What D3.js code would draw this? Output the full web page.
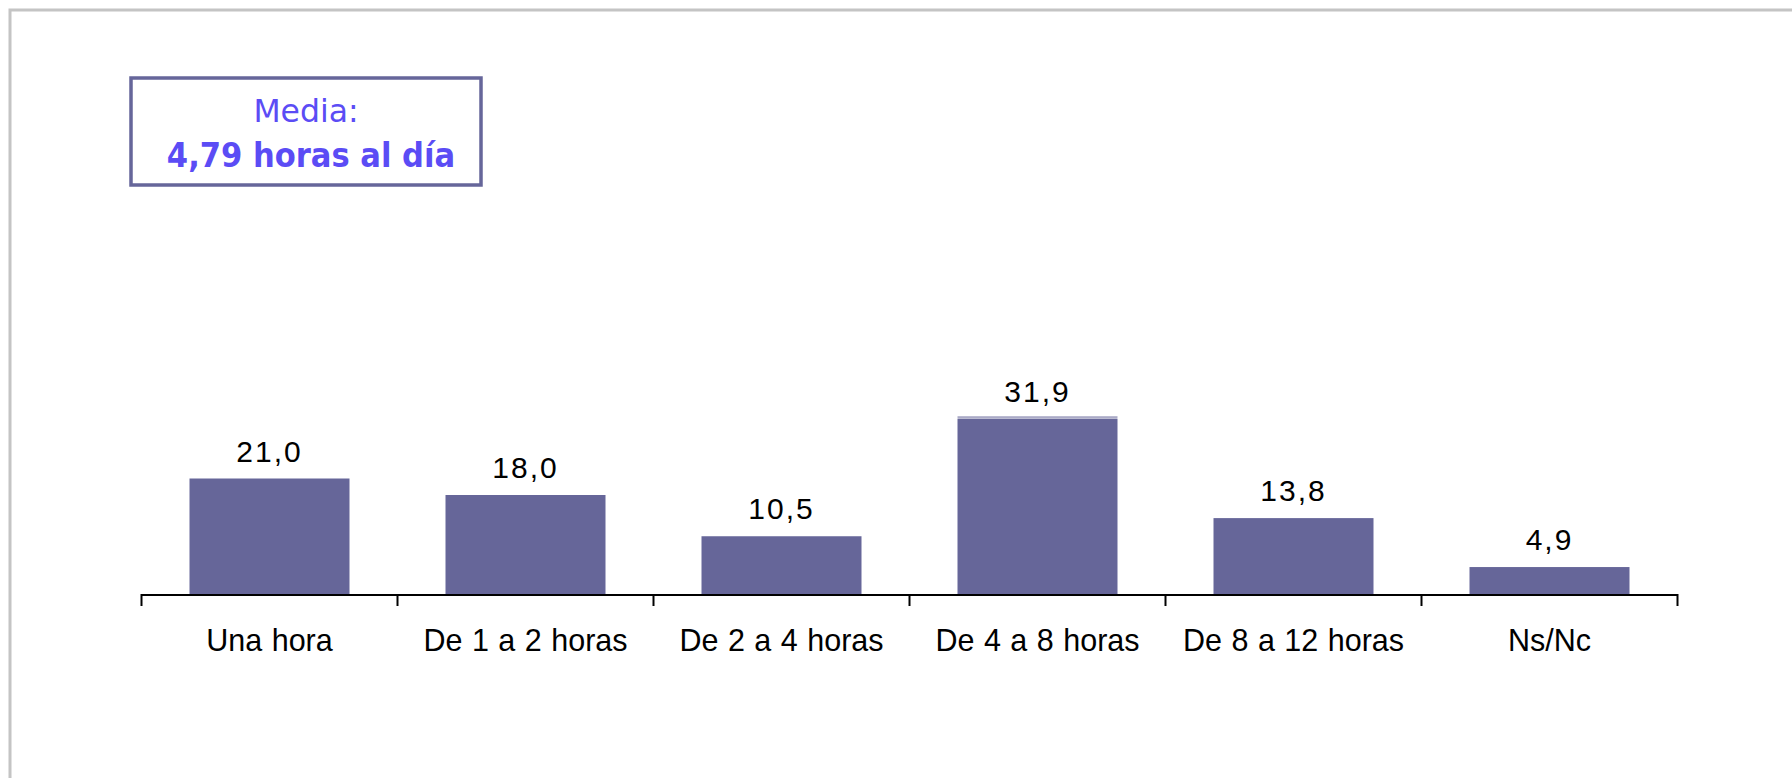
<!DOCTYPE html>
<html>
<head>
<meta charset="utf-8">
<script src="https://cdn.jsdelivr.net/npm/d3@7"></script>
<style>
  html, body { margin: 0; padding: 0; background: #fff; }
  svg { display: block; }
</style>
</head>
<body>
<div id="chart"></div>
<script>
// data
var categories = ["Una hora", "De 1 a 2 horas", "De 2 a 4 horas", "De 4 a 8 horas", "De 8 a 12 horas", "Ns/Nc"];
var values = [21.0, 18.0, 10.5, 31.9, 13.8, 4.9];
var mediaLines = ["Media:", "4,79 horas al día"];

var width = 1792, height = 778;

var svg = d3.select("#chart").append("svg")
    .attr("width", width)
    .attr("height", height);

//grey frame round the slide (only top and left show)
svg.append("path")
    .attr("d", "M10,778 L10,10 L1792,10")
    .attr("fill", "none")
    .attr("stroke", "#c4c4c4")
    .attr("stroke-width", 3);

//scales
var x = d3.scaleBand()
    .domain(categories)
    .range([141.5, 1677.5])
    .paddingInner(0.375)
    .paddingOuter(0.1875);

var y = d3.scaleLinear()
    .domain([0, 100])
    .range([594, 44]);

//bars
svg.selectAll("rect.bar")
    .data(values)
    .enter()
    .append("rect")
    .attr("class", "bar")
    .attr("x", function(d, i) { return x(categories[i]); })
    .attr("y", function(d) { return y(d); })
    .attr("width", x.bandwidth())
    .attr("height", function(d) { return y(0) - y(d); })
    .attr("fill", "#666699");

//the tallest bar has a thin detached line on its top edge in the original
var maxI = d3.maxIndex(values);
svg.append("rect")
    .attr("x", x(categories[maxI]))
    .attr("y", y(values[maxI]) - 2)
    .attr("width", x.bandwidth())
    .attr("height", 1)
    .attr("fill", "#666699");

//value labels above the bars
svg.selectAll("text.val")
    .data(values)
    .enter()
    .append("text")
    .attr("class", "val")
    .attr("x", function(d, i) { return x(categories[i]) + x.bandwidth() / 2; })
    .attr("y", function(d) { return y(d) - 17; })
    .attr("text-anchor", "middle")
    .attr("font-family", "Liberation Sans, Arial, sans-serif")
    .attr("font-size", "30px")
    .attr("letter-spacing", "2px")
    .attr("fill", "#000")
    .text(function(d) { return d3.format(".1f")(d).replace(".", ","); });

//x axis, ticks between categories
var step = x.step();
var tickPos = d3.range(categories.length + 1).map(function(i) { return 141.5 + i * step; });

var axis = svg.append("g");
axis.append("line")
    .attr("x1", tickPos[0]).attr("x2", tickPos[tickPos.length - 1])
    .attr("y1", y(0) + 1).attr("y2", y(0) + 1)
    .attr("stroke", "#000").attr("stroke-width", 2);
axis.selectAll("line.tick")
    .data(tickPos)
    .enter()
    .append("line")
    .attr("class", "tick")
    .attr("x1", function(d) { return d; }).attr("x2", function(d) { return d; })
    .attr("y1", y(0)).attr("y2", y(0) + 12)
    .attr("stroke", "#000").attr("stroke-width", 2);

axis.selectAll("text")
    .data(categories)
    .enter()
    .append("text")
    .attr("x", function(d) { return x(d) + x.bandwidth() / 2; })
    .attr("y", 651)
    .attr("text-anchor", "middle")
    .attr("font-family", "Liberation Sans, Arial, sans-serif")
    .attr("font-size", "30.5px")
    .attr("word-spacing", "1px")
    .attr("fill", "#000")
    .text(function(d) { return d; });

//the "Media" box in the top left
var box = svg.append("g");
box.append("rect")
    .attr("x", 131).attr("y", 78)
    .attr("width", 350).attr("height", 107)
    .attr("fill", "#fff")
    .attr("stroke", "#66669a")
    .attr("stroke-width", 3.5);
box.append("text")
    .attr("x", 306).attr("y", 122)
    .attr("text-anchor", "middle")
    .attr("font-family", "DejaVu Sans, Verdana, sans-serif")
    .attr("font-size", "31.5px")
    .attr("fill", "#5b4cf5")
    .text(mediaLines[0]);
box.append("text")
    .attr("x", 311).attr("y", 167)
    .attr("text-anchor", "middle")
    .attr("font-family", "DejaVu Sans Condensed, DejaVu Sans, sans-serif")
    .attr("font-weight", "bold")
    .attr("font-size", "34px")
    .attr("fill", "#5b4cf5")
    .text(mediaLines[1]);
</script>
</body>
</html>
